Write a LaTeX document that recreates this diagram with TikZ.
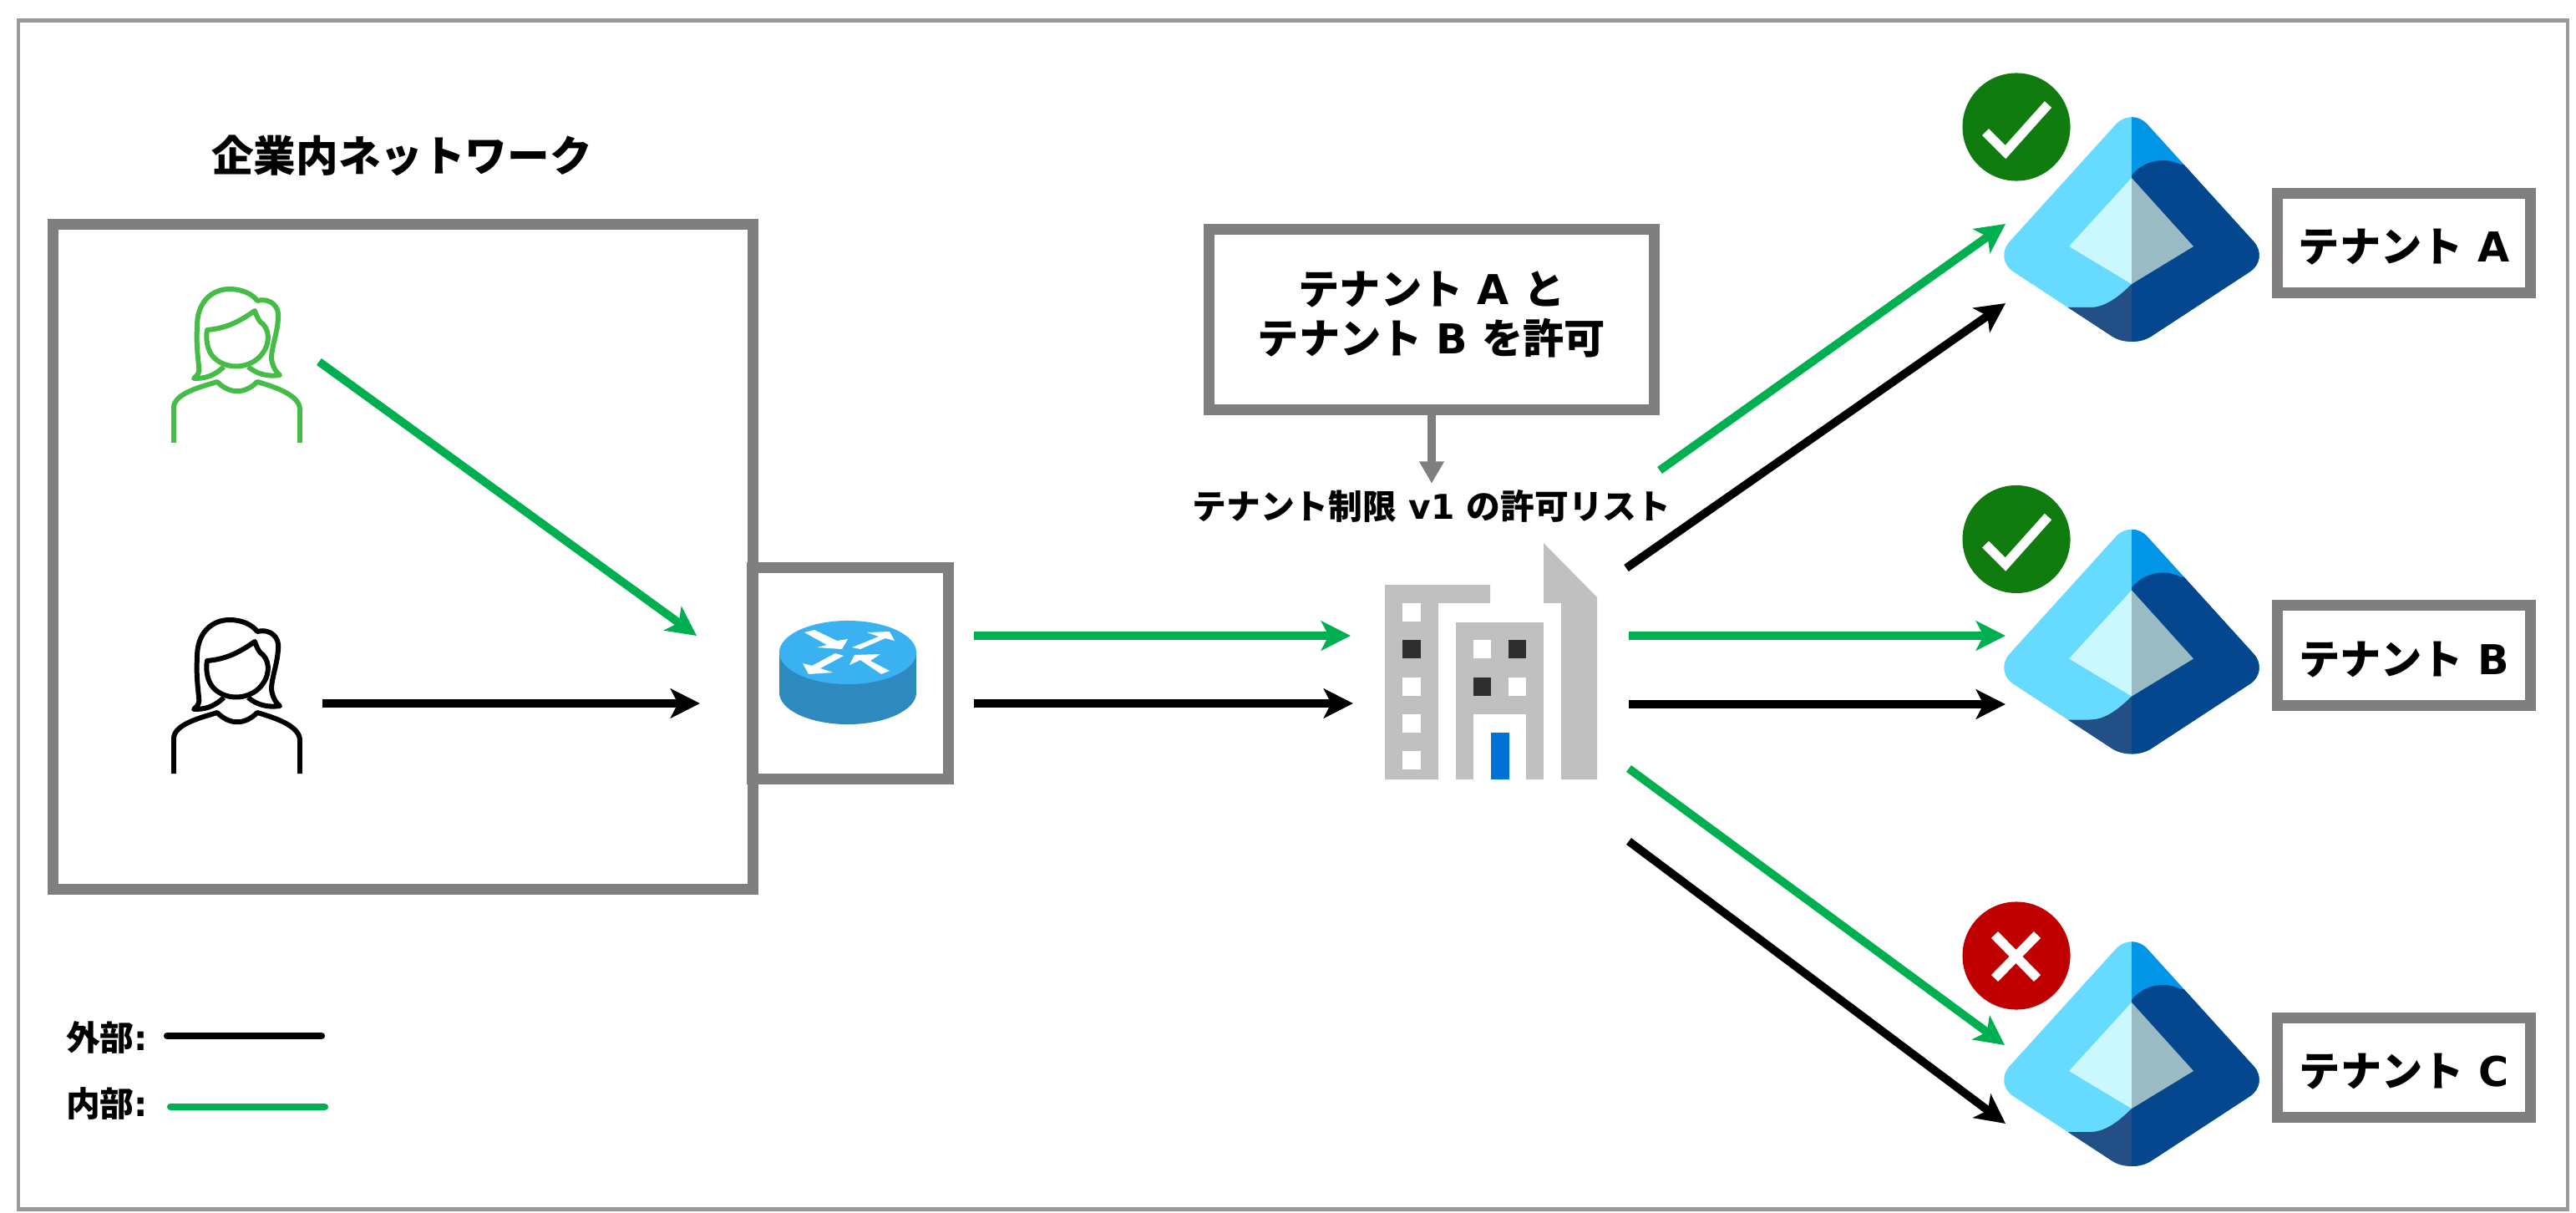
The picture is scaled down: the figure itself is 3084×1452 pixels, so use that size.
\documentclass[tikz,border=0pt]{standalone}
\usepackage{fontspec}
\setmainfont{Noto Sans CJK JP}
\newfontfamily\latfont{DejaVu Sans}
\newcommand{\latn}[1]{{\latfont #1}}
\usepackage{tikz}
\usetikzlibrary{positioning, arrows.meta}
\usepackage{xcolor}
\definecolor{frameg}{HTML}{7F7F7F}
\definecolor{lineg}{HTML}{00B050}
\definecolor{persong}{HTML}{45BC45}
\definecolor{bldg}{HTML}{C0C0C0}
\definecolor{win}{HTML}{2E2E2E}
\definecolor{door}{HTML}{0072D6}
\definecolor{rttop}{HTML}{3AB2F2}
\definecolor{rtside}{HTML}{2D89BE}
\definecolor{enlight}{HTML}{66DBFF}
\definecolor{enmid}{HTML}{0095E6}
\definecolor{endark}{HTML}{05478F}
\definecolor{enlow}{HTML}{225086}
\definecolor{enpale}{HTML}{CBF8FF}
\definecolor{engrey}{HTML}{9ABBC3}
\definecolor{okgreen}{HTML}{107C10}
\definecolor{ngred}{HTML}{C00000}

\begin{document}
\begin{tikzpicture}[x=0.01cm,y=-0.01cm,
    box/.style={draw=frameg,line width=3.7pt,inner sep=0pt},
    txt/.style={inner sep=0pt,font=\fontsize{14pt}{16.8pt}\selectfont\bfseries,align=center},
    lbl/.style={inner sep=0pt,font=\fontsize{11.6pt}{14pt}\selectfont\bfseries},
    okdot/.style={circle,fill=#1,minimum size=1.29cm,inner sep=0pt},
    grn/.style={draw=lineg,line width=2.8pt,-{Stealth[length=10pt,width=10pt,inset=2.5pt]}},
    blk/.style={draw=black,line width=2.8pt,-{Stealth[length=10pt,width=10pt,inset=2.5pt]}},
    pics/person/.style={code={
      \draw[#1,line width=1.7pt,line join=round]
        (108,119) .. controls (95,131) and (85,133) .. (72,133) .. controls (78,128) and (79,125) .. (78,118)
        .. controls (76,100) and (75,85) .. (76,73) .. controls (75,40) and (95,26) .. (115,26)
        .. controls (130,26) and (142,32) .. (148,40) .. controls (165,36) and (175,48) .. (173,61)
        .. controls (172,80) and (165,95) .. (165,109) .. controls (166,118) and (170,125) .. (175,129)
        .. controls (160,131) and (148,128) .. (137,119);
      \draw[#1,line width=1.7pt,line join=round]
        (88,75) .. controls (110,73) and (125,66) .. (145,52) .. controls (148,60) and (150,65) .. (155,68)
        .. controls (164,78) and (163,95) .. (150,108) .. controls (135,122) and (110,122) .. (96,108)
        .. controls (88,100) and (86,85) .. (88,75) -- cycle;
      \draw[#1,line width=1.7pt,line join=round]
        (48,210) -- (48,168) .. controls (48,150) and (85,142) .. (100,137) .. controls (115,152) and (133,152) .. (148,137)
        .. controls (165,142) and (199,152) .. (199,170) -- (199,210);
    }},
    pics/entra/.style={code={
      \begin{scope}
        \clip[rounded corners=2.8mm] (0,-177) -- (-165,5) -- (0,113) -- (165,5) -- cycle;
        \fill[enlight] (-170,-180) rectangle (0,120);
        \fill[enmid] (0,-180) rectangle (170,120);
        \fill[endark] (0,-95) .. controls (10,-108) and (25,-113) .. (38,-113) .. controls (45,-113) and (52,-111) .. (59,-108) -- (200,-108) -- (200,120) -- (0,120) -- cycle;
        \fill[enlow] (0,35) .. controls (-20,55) and (-35,63) .. (-50,63) -- (-85,63) -- (-85,120) -- (0,120) -- cycle;
      \end{scope}
      \fill[enpale] (0,-92) -- (-75,-10) -- (0,35) -- cycle;
      \fill[engrey] (0,-92) -- (74,-10) -- (0,35) -- cycle;
    }}]
  \useasboundingbox (0,0) rectangle (3084,1452);
  \node[draw=gray!80,line width=1.2pt,minimum width=30.5cm,minimum height=14.22cm,inner sep=0pt](page) at (1548,736){};

  \node[inner sep=0pt,font=\fontsize{14.4pt}{17pt}\selectfont\bfseries](corptitle) at (481,186){企業内ネットワーク};
  \node[box,minimum width=8.37cm,minimum height=7.95cm](corp) at (482.5,666.5){};
  \node[box,minimum width=2.34cm,minimum height=2.52cm](rtbox) at (1018,806){};
  \node[box,minimum width=5.32cm,minimum height=2.15cm](allow) at (1714,382.5){};
  \node[txt](allowtxt) at (1714,376){テナント\latn{ A }と\\テナント\latn{ B }を許可};
  \node[lbl](rule) at (1714,606){テナント制限\latn{ v1 }の許可リスト};

  \pic at (160,320) {person=persong};
  \pic at (160,716) {person=black};

  % router
  \fill[rtside] (933,781) rectangle (1097,829);
  \fill[rtside] (1015,829) ellipse [x radius=0.82cm,y radius=0.38cm];
  \fill[rttop] (1015,781) ellipse [x radius=0.82cm,y radius=0.38cm];
  \begin{scope}[shift={(1015,781)}]
    \fill[white] (-52,-24)--(-40,-27)--(-13,-14)--(0,-16)--(-7,-4)--(-37,-6)--(-25,-9)--cycle;
    \fill[white] (5,-6)--(37,-19)--(23,-24)--(50,-25)--(56,-14)--(45,-17)--(15,-4)--cycle;
    \fill[white] (-5,4)--(-33,19)--(-18,24)--(-47,26)--(-54,13)--(-43,16)--(-15,1)--cycle;
    \fill[white] (50,22)--(27,10)--(39,2)--(8,3)--(2,15)--(15,9)--(40,26)--cycle;
  \end{scope}

  % building
  \fill[bldg] (1658,933)--(1658,700)--(1784,700)--(1784,722)--(1722,722)--(1722,933)--cycle;
  \fill[bldg] (1743,745) rectangle (1848,933);
  \fill[bldg] (1848,650)--(1912,715)--(1912,933)--(1869,933)--(1869,722)--(1848,722)--cycle;
  \foreach \y in {722,811,855,899}
    \fill[white] (1679,\y) rectangle ++(22,22);
  \fill[win] (1679,766) rectangle ++(22,22);
  \fill[white] (1764,766) rectangle ++(21,22);
  \fill[win] (1806,766) rectangle ++(21,22);
  \fill[win] (1764,811) rectangle ++(21,22);
  \fill[white] (1806,811) rectangle ++(21,22);
  \fill[white] (1764,855) rectangle (1827,933);
  \fill[door] (1785,877) rectangle (1807,933);

  \foreach \n/\t/\yy in {a/A/0,b/B/493.5,c/C/987}{
    \pic at (2552,305+\yy) {entra};
    \node[box,minimum width=3.02cm,minimum height=1.19cm](ten\n) at (2878,291+\yy){};
    \node[txt](txt\n) at (2878,296+\yy){テナント\latn{ \t}};
  }
  \node[okdot=okgreen](oka) at (2414,152){};
  \node[okdot=okgreen](okb) at (2414,645.5){};
  \node[okdot=ngred](ngc) at (2414,1144){};
  \foreach \yy in {0,493.5}
    \draw[white,line width=3.2pt] (2377,158+\yy)--(2401,182+\yy)--(2452,125+\yy);
  \draw[white,line width=3.2pt] (2388,1119)--(2439,1171);
  \draw[white,line width=3.2pt] (2439,1119)--(2388,1171);

  \coordinate(g1s) at (382,433);  \coordinate(g1e) at (834,761);
  \coordinate(k1s) at (386,842);  \coordinate(k1e) at (838,842);
  \coordinate(g2s) at (1166,761); \coordinate(g2e) at (1617,761);
  \coordinate(k2s) at (1166,842); \coordinate(k2e) at (1620,842);
  \coordinate(gas) at (1987,563); \coordinate(gae) at (2401,268);
  \coordinate(kas) at (1947,680); \coordinate(kae) at (2401,363);
  \coordinate(gbs) at (1950,761); \coordinate(gbe) at (2401,761);
  \coordinate(kbs) at (1950,843); \coordinate(kbe) at (2401,843);
  \coordinate(gcs) at (1950,920); \coordinate(gce) at (2400,1251);
  \coordinate(kcs) at (1950,1007);\coordinate(kce) at (2401,1345);
  \foreach \a/\b in {g1s/g1e,g2s/g2e,gas/gae,gbs/gbe,gcs/gce}
    \draw[grn] (\a)--(\b);
  \foreach \a/\b in {k1s/k1e,k2s/k2e,kas/kae,kbs/kbe,kcs/kce}
    \draw[blk] (\a)--(\b);

  \draw[draw=frameg,line width=2.8pt,-{Triangle[length=7.5pt,width=8pt]},shorten >=2pt] (allow)--(rule);

  \node[lbl](ext) at (128,1242){外部\latn{:}};
  \node[lbl](int) at (128,1321){内部\latn{:}};
  \coordinate(exts) at (200,1240); \coordinate(exte) at (385,1240);
  \coordinate(ints) at (204,1325); \coordinate(inte) at (389,1325);
  \draw[black,line width=2.3pt,line cap=round] (exts)--(exte);
  \draw[lineg,line width=2.3pt,line cap=round] (ints)--(inte);
\end{tikzpicture}
\end{document}
